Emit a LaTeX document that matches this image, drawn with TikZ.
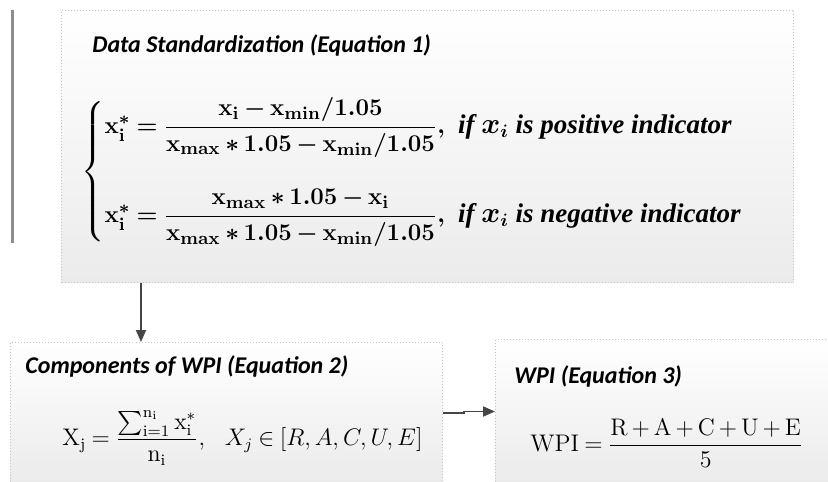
\documentclass[tikz,border=0pt]{standalone}
\usepackage{amsmath,amssymb}
\usepackage{fontspec}
\newfontfamily\calibri{Carlito}
\newfontfamily\serifbi{Liberation Serif}
\usetikzlibrary{positioning,arrows.meta,calc}
\definecolor{boxline}{HTML}{C4C4C4}
\definecolor{boxfill}{HTML}{EBEBEB}
\definecolor{arrowgrey}{HTML}{454545}
\definecolor{sidebar}{HTML}{8C8C8C}
\newcommand{\xv}[1]{\mathbf{x}_{\mathbf{#1}}}
\newcommand{\cond}[1]{\text{\fontsize{13.5}{16}\selectfont\serifbi\bfseries\itshape if $x_i$ is #1 indicator}}
\newcommand{\tightmath}[1]{\thickmuskip=4mu\relax\medmuskip=#1mu\relax}
\tikzset{
  panel/.style={rectangle, draw=boxline, densely dotted, line width=0.5pt,
                top color=white, bottom color=boxfill, anchor=north west,
                inner sep=0pt},
  ttl/.style={anchor=west, inner sep=0pt,
              font=\fontsize{12}{14}\selectfont\calibri\bfseries\itshape},
  eqb/.style={anchor=west, inner sep=0pt,
              font=\fontsize{13}{15}\selectfont\boldmath},
  eqn/.style={anchor=west, inner sep=0pt, font=\fontsize{12}{14}\selectfont},
  ar/.style={-{Triangle[length=6pt,width=5pt]}, line width=0.9pt, draw=arrowgrey},
}

\begin{document}
\begin{tikzpicture}[x=0.5pt,y=-0.5pt]
  \useasboundingbox (0,0) rectangle (828,481);
  % side rule
  \draw[sidebar, line width=1.5pt] (12,10) -- (12,243);

  % panels
  \node[panel, minimum width=366pt, minimum height=136pt] (std) at (61,10) {};
  \node[panel, minimum width=216pt, minimum height=70.5pt] (comp) at (10,342) {};
  \node[panel, minimum width=172.5pt, minimum height=72pt] (wpi) at (495,339) {};

  % titles
  \node[ttl] (stdttl) at (92,45) {Data Standardization (Equation 1)};
  \node[ttl] (compttl) at (25,366) {Components of WPI (Equation 2)};
  \node[ttl] (wpittl) at (514,376) {WPI (Equation 3)};

  % equations
  \node[eqb] (stdeq) at (81,172) {$\tightmath{3}\left\{\begin{array}{@{}l@{}}
    \xv{i}^{*} = \dfrac{\xv{i} - \xv{min}/\mathbf{1.05}}{\xv{max} \ast \mathbf{1.05} - \xv{min}/\mathbf{1.05}},\ \cond{positive}\\[23.5pt]
    \xv{i}^{*} = \dfrac{\xv{max} \ast \mathbf{1.05} - \xv{i}}{\xv{max} \ast \mathbf{1.05} - \xv{min}/\mathbf{1.05}},\ \cond{negative}
  \end{array}\right.$};
  \node[eqn] (compeq) at (62,438) {$\tightmath{3}\mathrm{X}_{\mathrm{j}} = \dfrac{\sum_{\mathrm{i}=1}^{\mathrm{n}_{\mathrm{i}}} \mathrm{x}_{\mathrm{i}}^{*}}{\mathrm{n}_{\mathrm{i}}},\ \ X_j \in [R,A,C,U,E]$};
  \node[eqn] (wpieq) at (530,443) {$\tightmath{3}\mathrm{WPI} = \dfrac{\mathrm{R} + \mathrm{A} + \mathrm{C} + \mathrm{U} + \mathrm{E}}{5}$};

  % arrows
  \coordinate (drop) at ([xshift=40pt]std.south west);
  \draw[ar] (drop) -- (drop |- comp.north);
  \draw[ar] (comp.east) -- ++(21,0) |- (wpi.west);
\end{tikzpicture}
\end{document}
